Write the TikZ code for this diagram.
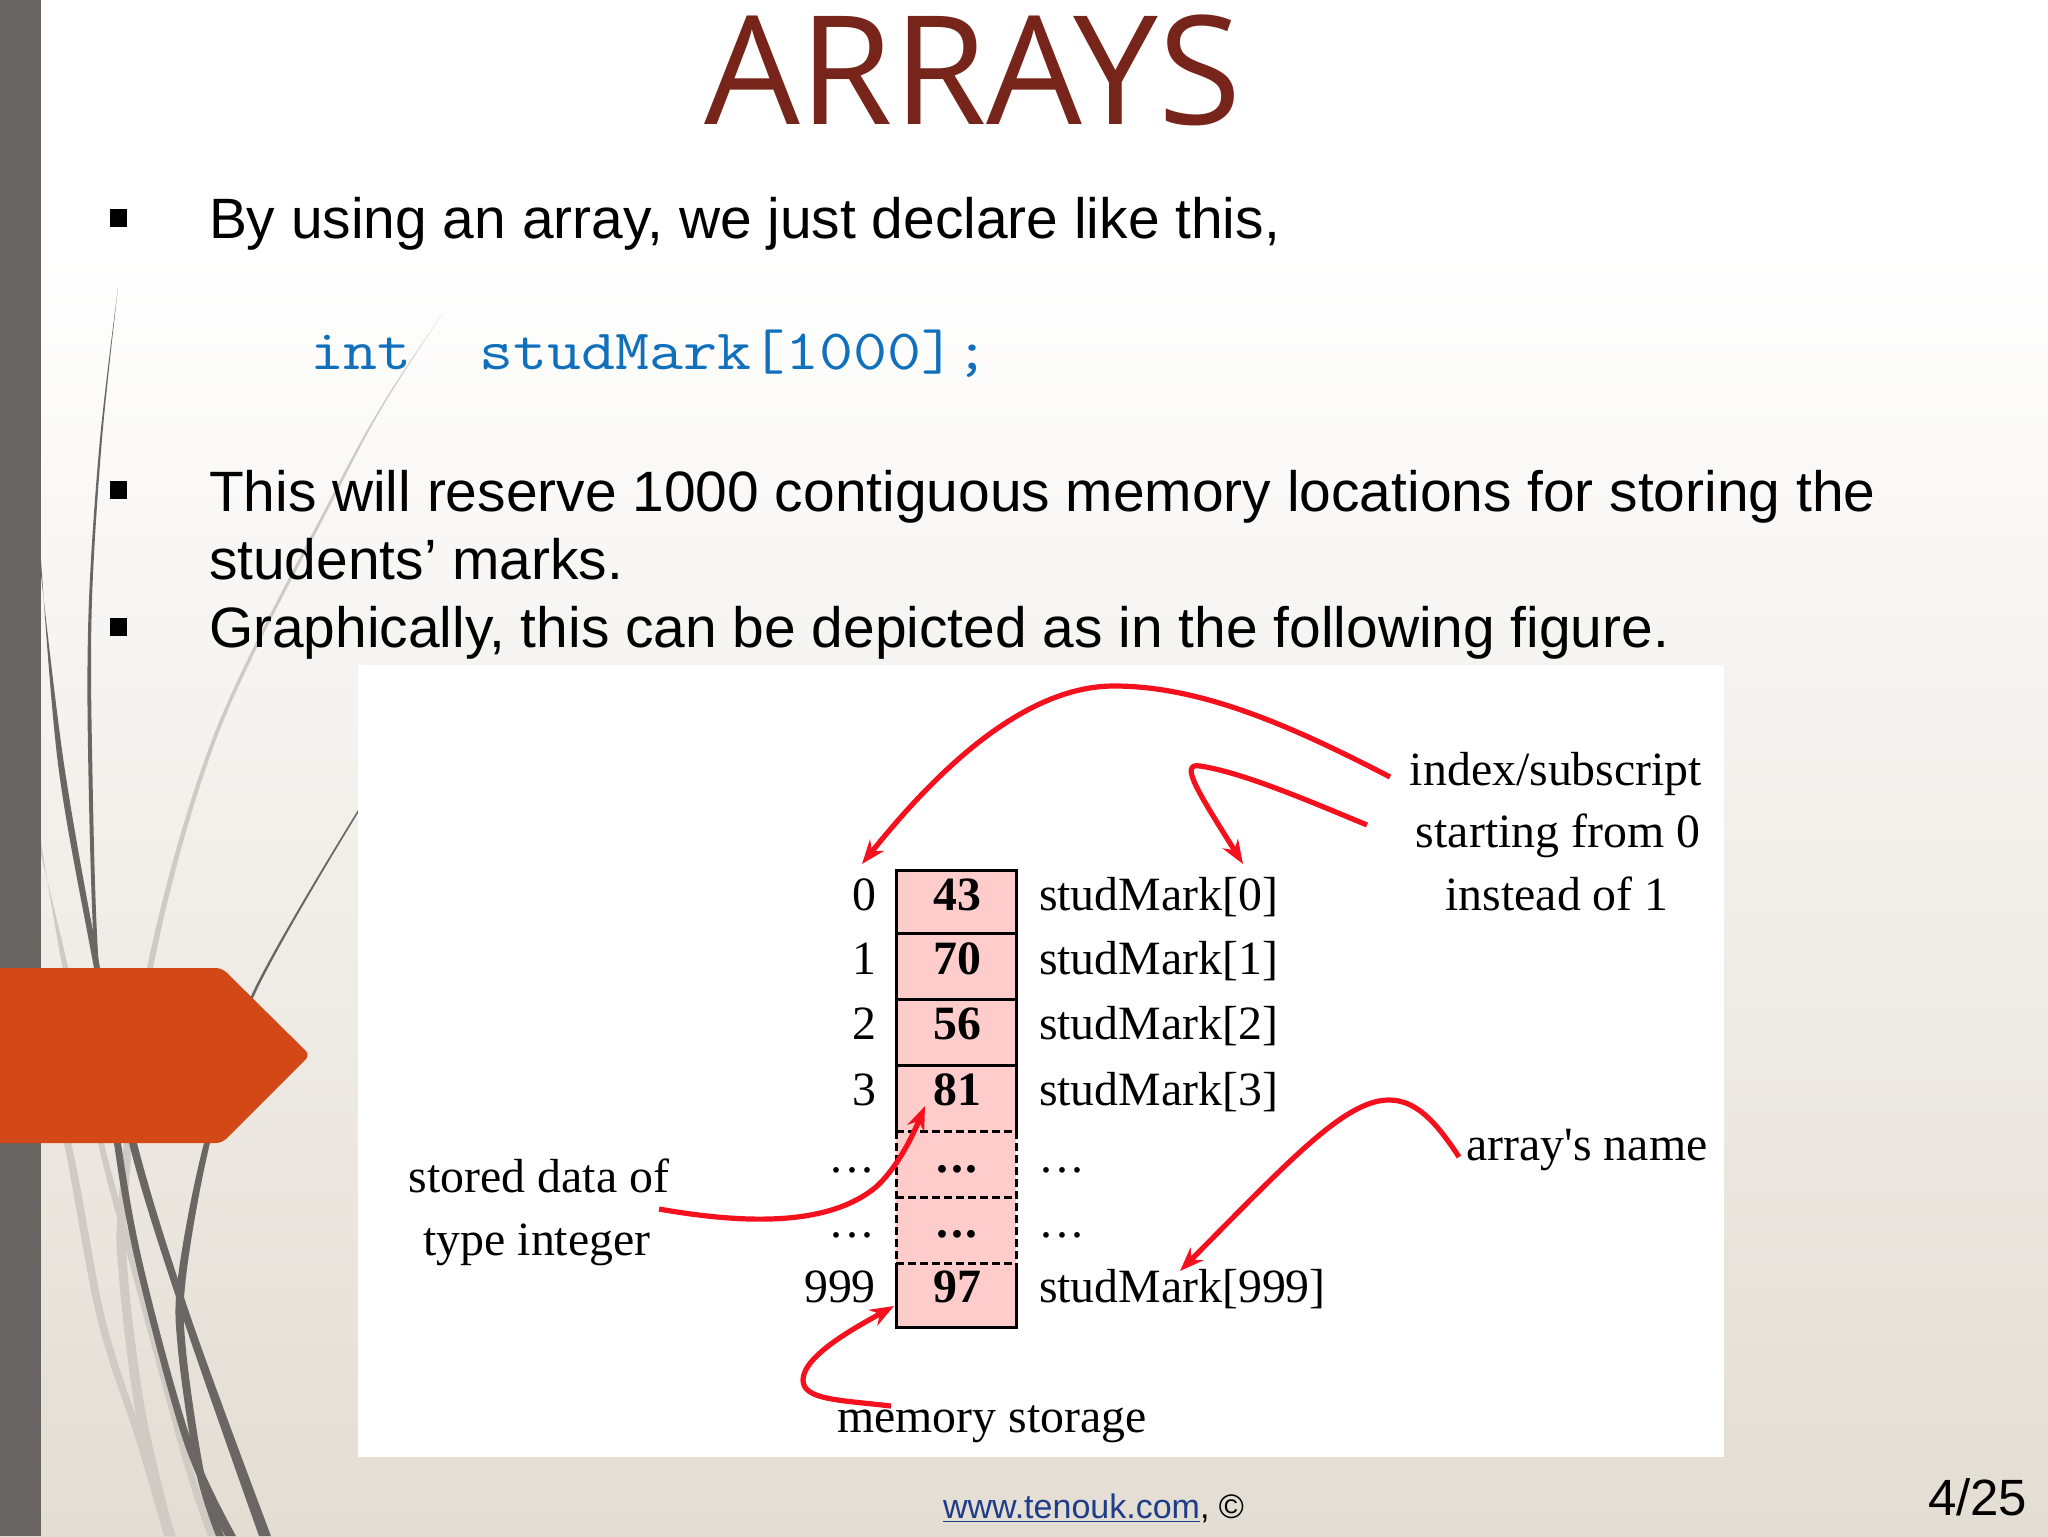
\documentclass[tikz,border=0pt]{standalone}
\usepackage{fontspec}
\setmainfont{Liberation Sans}
\newfontfamily\figfont{Liberation Serif}
\newfontfamily\titlefont{Open Sans}
\newfontfamily\codefont[FakeStretch=1.158]{Latin Modern Mono}
\usetikzlibrary{arrows.meta}
\definecolor{barc}{HTML}{686462}
\definecolor{darkc}{HTML}{6A6664}
\definecolor{lightc}{HTML}{CFCAC3}
\definecolor{orangec}{HTML}{D34817}
\definecolor{titlec}{HTML}{77241A}
\definecolor{codec}{HTML}{1070BC}
\definecolor{pinkc}{HTML}{FFCCCC}
\definecolor{redc}{HTML}{F5101E}
\definecolor{bgbottom}{HTML}{E3DDD3}
\definecolor{linkc}{HTML}{1F3C88}
\newcommand{\figdots}[1]{.\kern#1.\kern#1.}
\tikzset{
  txt/.style={inner sep=0pt,outer sep=0pt,anchor=base west},
  body/.style={txt,font=\fontsize{28.45}{32}\selectfont,text=black},
  fig/.style={inner sep=0pt,outer sep=0pt,anchor=base,font=\figfont\fontsize{23.9}{28}\selectfont,text=black},
  figw/.style={fig,anchor=base west},
  figb/.style={fig,font=\figfont\bfseries\fontsize{23.9}{28}\selectfont},
  cell/.style={fill=pinkc,inner sep=0pt,outer sep=0pt,minimum width=60pt,anchor=north west},
  solidl/.style={draw=black,line width=1.5pt},
  dashl/.style={draw=black,line width=1.5pt,dash pattern=on 4pt off 2pt},
  redarrow/.style={draw=redc,line width=2.6pt,-{Stealth[length=12pt,width=9pt]}},
  smoothp/.style={smooth,tension=0.55}
}
\begin{document}
\begin{tikzpicture}[x=0.5pt,y=-0.5pt]
\useasboundingbox (0,0) rectangle (2048,1536);
% background
\fill[white] (0,0) rectangle (2048,250);
\shade[top color=white,bottom color=bgbottom] (0,250) rectangle (2048,1536);
\fill[barc] (0,0) rectangle (41,1536);
% light curves
\fill[lightc] plot[smoothp] coordinates {(443,313)(385,400)(333,494)(215,732)(147,968)(119,1196)(119,1277)(136,1415)(165,1536)} -- plot[smoothp] coordinates {(175,1536)(146,1415)(128,1277)(128,1196)(153,968)(219,732)(335,496)(386,401)(443,313)} -- cycle;
\fill[lightc] plot[smoothp] coordinates {(41,842)(64,976)(98,1143)(131,1269)(184,1464)(208,1536)} -- plot[smoothp] coordinates {(218,1536)(191,1464)(139,1269)(104,1143)(70,976)(41,855)} -- cycle;
\fill[lightc] plot[smoothp] coordinates {(41,1060)(64,1143)(97,1318)(136,1440)(164,1536)} -- plot[smoothp] coordinates {(176,1536)(144,1440)(105,1318)(71,1143)(41,1075)} -- cycle;
% dark curves
\fill[darkc] plot[smoothp] coordinates {(118,288)(100,439)(89,600)(88,748)(95,968)(114,1143)(137,1269)(183,1440)(225,1536)} -- plot[smoothp] coordinates {(236,1536)(191,1440)(144,1269)(121,1143)(99,968)(92,748)(92,600)(102,439)(118,288)} -- cycle;
\fill[darkc] plot[smoothp] coordinates {(41,560)(58,764)(91,952)(129,1143)(183,1318)(259,1536)} -- plot[smoothp] coordinates {(271,1536)(191,1318)(137,1143)(97,952)(64,764)(41,575)} -- cycle;
\fill[darkc] plot[smoothp] coordinates {(358,810)(252,994)(204,1143)(178,1277)(178,1350)(196,1472)(216,1536)} -- plot[smoothp] coordinates {(224,1536)(204,1472)(186,1350)(186,1277)(210,1143)(254,996)(358,813)} -- cycle;
% pentagon
\fill[orangec,rounded corners=3pt] (-20,968) -- (222,968) -- (310,1055) -- (222,1143) -- (-20,1143) -- cycle;
% title
\node[txt,font=\titlefont\fontsize{75.7}{90}\selectfont,text=titlec] (title) at (704,125) {ARRAYS};
% bullets
\fill[black] (110,209) rectangle (127,227);
\fill[black] (110,481) rectangle (127,499);
\fill[black] (110,618) rectangle (127,636);
% body
\node[body] (t1) at (209,238) {By using an array, we just declare like this,};
\node[txt,font=\codefont\fontsize{28.5}{32}\selectfont,text=codec] (code) at (310,369) {int\ \ studMark[1000];};
\node[body] (t2) at (209,511) {This will reserve 1000 contiguous memory locations for storing the};
\node[body] (t3) at (209,579) {students’ marks.};
\node[body] (t4) at (209,647) {Graphically, this can be depicted as in the following figure.};
% figure
\fill[white] (358,665) rectangle (1724,1457);
\node[cell,minimum height=31.5pt] (c0) at (896,870) {};
\node[cell,minimum height=33pt] (c1) at (896,933) {};
\node[cell,minimum height=33pt] (c2) at (896,999) {};
\node[cell,minimum height=33pt] (c3) at (896,1065) {};
\node[cell,minimum height=33pt] (c4) at (896,1131) {};
\node[cell,minimum height=33pt] (c5) at (896,1197) {};
\node[cell,minimum height=32pt] (c6) at (896,1263) {};
\draw[solidl] (c3.south west) -- (c3.north west) -- (c0.north west) -- (c0.north east) -- (c3.north east) -- (c3.south east);
\draw[solidl] (c0.south west) -- (c0.south east);
\draw[solidl] (c1.south west) -- (c1.south east);
\draw[solidl] (c2.south west) -- (c2.south east);
\draw[dashl] (c3.south west) -- (c3.south east);
\draw[dashl] (c4.south west) -- (c4.south east);
\draw[dashl] (c5.south west) -- (c5.south east);
\draw[dashl] (c4.north west) -- (c5.south west);
\draw[dashl] (c4.north east) -- (c5.south east);
\draw[solidl] (c6.north west) -- (c6.south west) -- (c6.south east) -- (c6.north east);
% values
\node[figb] (v0) at (957,910) {43};
\node[figb] (v1) at (957,974) {70};
\node[figb] (v2) at (957,1039) {56};
\node[figb] (v3) at (957,1105) {81};
\node[figb] (v4) at (957,1172) {\figdots{1.5pt}};
\node[figb] (v5) at (957,1237) {\figdots{1.5pt}};
\node[figb] (v6) at (957,1302) {97};
% indices
\node[fig] (i0) at (864,910) {0};
\node[fig] (i1) at (864,974) {1};
\node[fig] (i2) at (864,1039) {2};
\node[fig] (i3) at (864,1105) {3};
\node[fig] (i4) at (852,1172) {\figdots{2pt}};
\node[fig] (i5) at (852,1237) {\figdots{2pt}};
\node[fig] (i6) at (840,1302) {999};
% names
\node[figw] (n0) at (1039,910) {studMark[0]};
\node[figw] (n1) at (1039,974) {studMark[1]};
\node[figw] (n2) at (1039,1039) {studMark[2]};
\node[figw] (n3) at (1039,1105) {studMark[3]};
\node[fig] (n4) at (1062,1172) {\figdots{2pt}};
\node[fig] (n5) at (1062,1237) {\figdots{2pt}};
\node[figw] (n6) at (1039,1302) {studMark[999]};
% labels
\node[fig] (l1) at (1556,785) {index/subscript};
\node[fig] (l2) at (1558,847) {starting from 0};
\node[fig] (l3) at (1557,910) {instead of 1};
\node[fig] (l4) at (1587,1160) {array's name};
\node[fig] (l5) at (539,1192) {stored data of};
\node[fig] (l6) at (537,1255) {type integer};
\node[fig] (l7) at (992,1432) {memory storage};
% connector ends
\coordinate (a1s) at (1390,777);
\coordinate (a1e) at (862,864);
\coordinate (a2s) at (1367,825);
\coordinate (a2e) at (1243,864);
\coordinate (a3s) at (1459,1157);
\coordinate (a3e) at (1180,1271);
\coordinate (a4s) at (659,1209);
\coordinate (a4e) at (925,1106);
\coordinate (a5s) at (891,1406);
\coordinate (a5e) at (894,1306);
\draw[redarrow] (a1s) .. controls (1290,725) and (1200,686) .. (1114,686) .. controls (1030,686) and (945,760) .. (a1e);
\draw[redarrow] (a2s) .. controls (1300,797) and (1240,772) .. (1200,766) .. controls (1178,762) and (1200,795) .. (a2e);
\draw[redarrow] (a3s) .. controls (1435,1120) and (1415,1100) .. (1389,1100) .. controls (1345,1100) and (1290,1160) .. (a3e);
\draw[redarrow] (a4s) .. controls (750,1225) and (830,1225) .. (876,1187) .. controls (900,1165) and (915,1130) .. (a4e);
\draw[redarrow] (a5s) .. controls (840,1400) and (803,1400) .. (803,1380) .. controls (803,1355) and (860,1325) .. (a5e);
% footer
\node[txt,font=\fontsize{17}{20}\selectfont] (foot) at (943,1518) {\textcolor{linkc}{\underline{www.tenouk.com}}, ©};
\node[txt,font=\fontsize{25.5}{30}\selectfont,text=black] (page) at (1928,1515) {4/25};
\end{tikzpicture}
\end{document}
